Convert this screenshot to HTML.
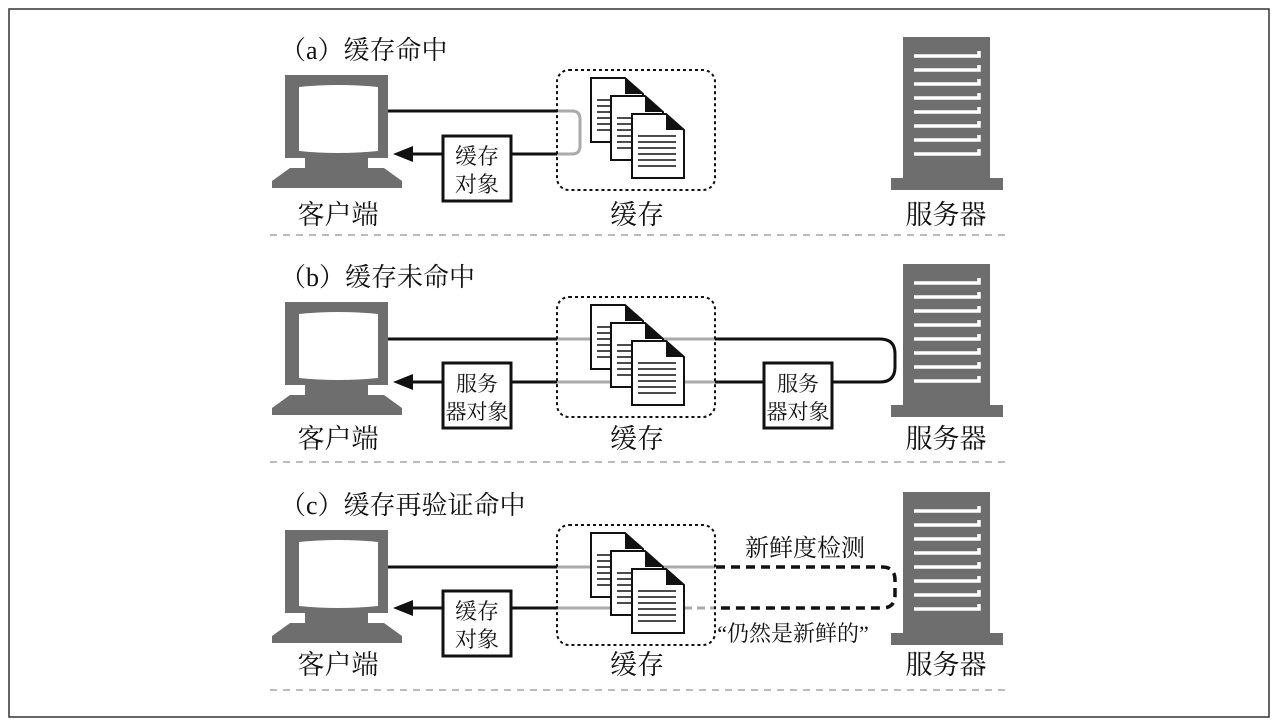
<!DOCTYPE html>
<html><head><meta charset="utf-8"><style>
html,body{margin:0;padding:0;background:#fff}
svg{display:block}
text{font-family:"Liberation Serif","Noto Serif CJK SC","Noto Sans CJK SC",serif;fill:#111}
</style></head><body>
<svg width="1279" height="727" viewBox="0 0 1279 727" xmlns="http://www.w3.org/2000/svg">
<defs>
<g id="client">
 <rect x="285" y="75" width="103" height="83" fill="#6e6e6e"/>
 <path d="M299 87 Q338 83 378 87 L378 151 Q338 155 299 151 Z" fill="#fff"/>
 <rect x="305" y="158" width="63" height="10" fill="#6e6e6e"/>
 <path d="M290 168 L384 168 L402 181 L402 188 L272 188 L272 181 Z" fill="#6e6e6e"/>
</g>
<g id="server">
 <rect x="903" y="37" width="87" height="142" fill="#6e6e6e"/>
 <rect x="891" y="178" width="112" height="12" fill="#6e6e6e"/>
 <g stroke="#fff" stroke-width="3.5" fill="none">
  <path d="M914 56 L979 56 L979 51"/><path d="M914 70 L979 70 L979 65"/>
  <path d="M914 84 L979 84 L979 79"/><path d="M914 98 L979 98 L979 93"/>
  <path d="M914 112 L979 112 L979 107"/><path d="M914 126 L979 126 L979 121"/>
  <path d="M914 140 L979 140 L979 135"/><path d="M914 154 L979 154 L979 149"/>
 </g>
</g>
<g id="page">
 <path d="M0 0 L34 0 L52 16 L52 64 L0 64 Z" fill="#fff" stroke="#111" stroke-width="2"/>
 <path d="M34 0 L52 16 L34 16 Z" fill="#111"/>
 <g stroke="#111" stroke-width="1.5">
  <line x1="6" y1="22" x2="44" y2="22"/><line x1="6" y1="28" x2="44" y2="28"/>
  <line x1="6" y1="34" x2="44" y2="34"/><line x1="6" y1="40" x2="44" y2="40"/>
  <line x1="6" y1="46" x2="44" y2="46"/><line x1="6" y1="52" x2="44" y2="52"/>
 </g>
</g>
<g id="docs">
 <use href="#page" x="591" y="78"/>
 <use href="#page" x="611" y="96"/>
 <use href="#page" x="632" y="114"/>
</g>
<g id="cachebox">
 <rect x="557" y="70" width="158" height="120" rx="12" fill="none" stroke="#111" stroke-width="2" stroke-dasharray="3,3"/>
</g>
</defs>

<rect x="9" y="9" width="1260" height="708" fill="none" stroke="#333" stroke-width="1.5"/>

<!-- Panel a -->
<g>
 <text x="280" y="59" font-size="26">（a）缓存命中</text>
 <use href="#client"/>
 <use href="#server"/>
 <line x1="388" y1="111" x2="557" y2="111" stroke="#111" stroke-width="3"/>
 <line x1="410" y1="154" x2="557" y2="154" stroke="#111" stroke-width="3"/>
 <path d="M393 154 L413 146 L413 162 Z" fill="#111"/>
 <path d="M557 111 L572 111 Q580 111 580 119 L580 146 Q580 154 572 154 L557 154" fill="none" stroke="#aaa" stroke-width="3"/>
 <rect x="443" y="136" width="68" height="65" fill="#fff" stroke="#111" stroke-width="3"/>
 <text x="477" y="164" font-size="22" text-anchor="middle">缓存</text>
 <text x="477" y="192" font-size="22" text-anchor="middle">对象</text>
 <use href="#cachebox"/>
 <use href="#docs"/>
 <text x="338" y="224" font-size="27" text-anchor="middle">客户端</text>
 <text x="637" y="224" font-size="27" text-anchor="middle">缓存</text>
 <text x="946" y="224" font-size="27" text-anchor="middle">服务器</text>
 <line x1="270" y1="235" x2="1005" y2="235" stroke="#bbb" stroke-width="2" stroke-dasharray="7,6"/>
</g>

<!-- Panel b -->
<g transform="translate(0,227)">
 <text x="280" y="59" font-size="26">（b）缓存未命中</text>
 <use href="#client"/>
 <use href="#server"/>
 <path d="M388 112 L880 112 Q895 112 895 127 L895 140 Q895 155 880 155 L410 155" fill="none" stroke="#111" stroke-width="3"/>
 <path d="M393 155 L413 147 L413 163 Z" fill="#111"/>
 <line x1="557" y1="112" x2="715" y2="112" stroke="#aaa" stroke-width="3"/>
 <line x1="557" y1="155" x2="715" y2="155" stroke="#aaa" stroke-width="3"/>
 <rect x="443" y="136" width="68" height="65" fill="#fff" stroke="#111" stroke-width="3"/>
 <text x="477" y="164" font-size="21" text-anchor="middle">服务</text>
 <text x="477" y="192" font-size="21" text-anchor="middle">器对象</text>
 <rect x="764" y="136" width="68" height="65" fill="#fff" stroke="#111" stroke-width="3"/>
 <text x="798" y="164" font-size="21" text-anchor="middle">服务</text>
 <text x="798" y="192" font-size="21" text-anchor="middle">器对象</text>
 <use href="#cachebox"/>
 <use href="#docs"/>
 <text x="338" y="221" font-size="27" text-anchor="middle">客户端</text>
 <text x="637" y="221" font-size="27" text-anchor="middle">缓存</text>
 <text x="946" y="221" font-size="27" text-anchor="middle">服务器</text>
 <line x1="270" y1="235" x2="1005" y2="235" stroke="#bbb" stroke-width="2" stroke-dasharray="7,6"/>
</g>

<!-- Panel c -->
<g transform="translate(0,455)">
 <text x="280" y="59" font-size="26">（c）缓存再验证命中</text>
 <use href="#client"/>
 <use href="#server"/>
 <line x1="388" y1="112" x2="557" y2="112" stroke="#111" stroke-width="3"/>
 <line x1="557" y1="112" x2="715" y2="112" stroke="#aaa" stroke-width="3"/>
 <line x1="410" y1="153" x2="557" y2="153" stroke="#111" stroke-width="3"/>
 <line x1="557" y1="153" x2="610" y2="153" stroke="#aaa" stroke-width="3"/>
 <line x1="684" y1="153" x2="715" y2="153" stroke="#aaa" stroke-width="3" stroke-dasharray="8,5"/>
 <path d="M393 153 L413 145 L413 161 Z" fill="#111"/>
 <path d="M716 112 L882 112 Q895 112 895 125 L895 140 Q895 153 882 153 L716 153" fill="none" stroke="#111" stroke-width="3.5" stroke-dasharray="9,6"/>
 <rect x="443" y="136" width="68" height="65" fill="#fff" stroke="#111" stroke-width="3"/>
 <text x="477" y="164" font-size="22" text-anchor="middle">缓存</text>
 <text x="477" y="192" font-size="22" text-anchor="middle">对象</text>
 <use href="#cachebox"/>
 <use href="#docs"/>
 <text x="805" y="101" font-size="24" text-anchor="middle">新鲜度检测</text>
 <text x="793" y="186" font-size="22" text-anchor="middle">“仍然是新鲜的”</text>
 <text x="338" y="219" font-size="27" text-anchor="middle">客户端</text>
 <text x="637" y="219" font-size="27" text-anchor="middle">缓存</text>
 <text x="946" y="219" font-size="27" text-anchor="middle">服务器</text>
 <line x1="270" y1="235" x2="1005" y2="235" stroke="#bbb" stroke-width="2" stroke-dasharray="7,6"/>
</g>
</svg>
</body></html>
